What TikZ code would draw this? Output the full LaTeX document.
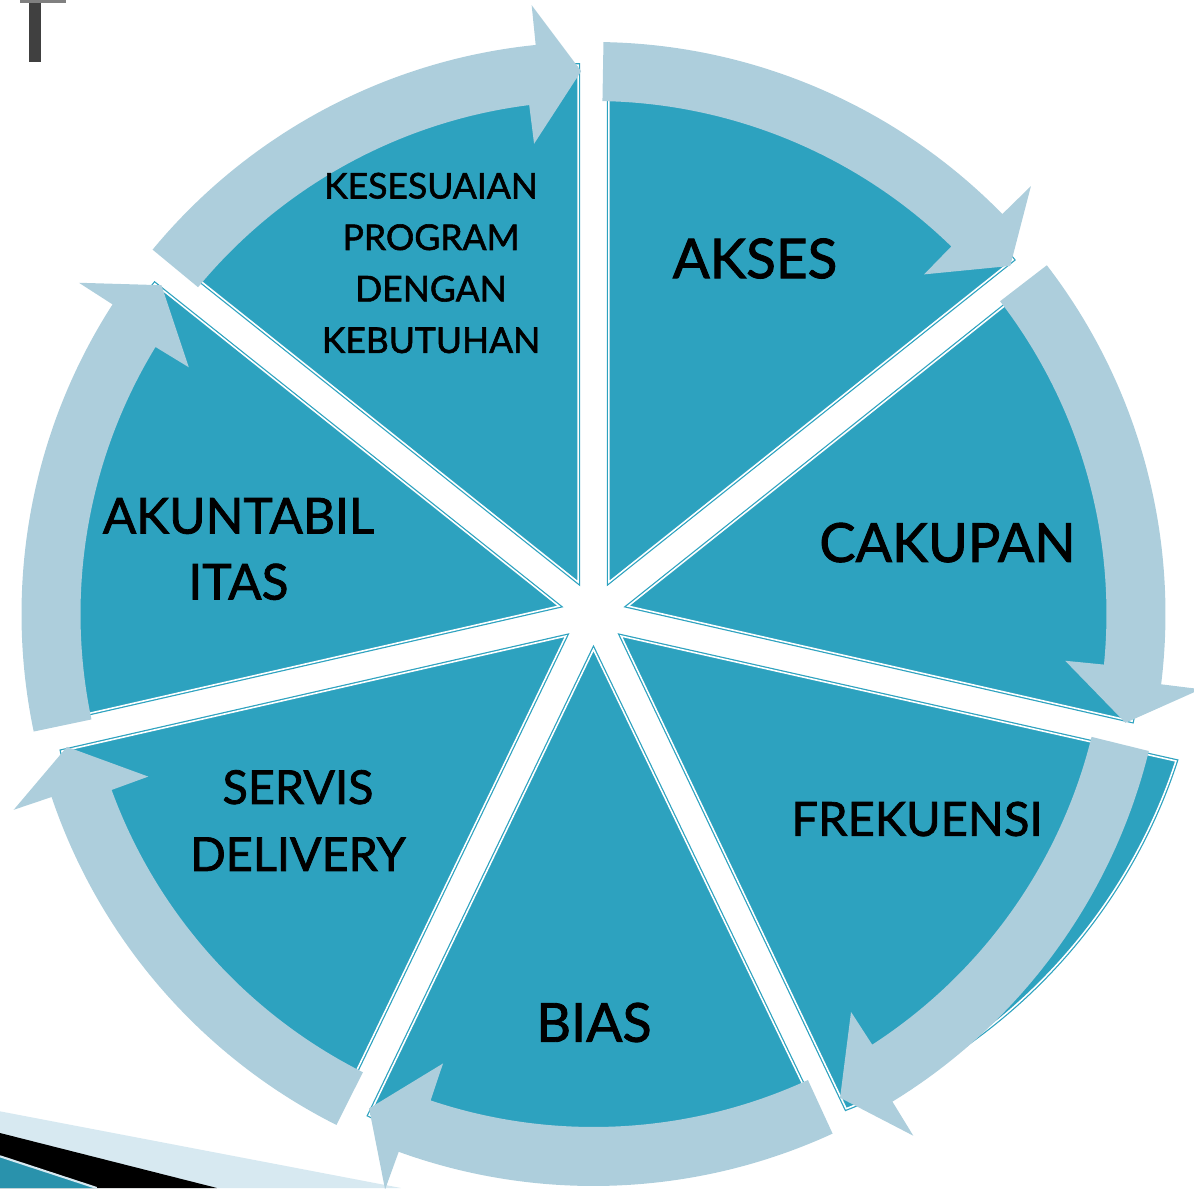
\documentclass[tikz,border=0pt]{standalone}
\usepackage{fontspec}
\setmainfont{Lato}[FakeBold=1.6]

\definecolor{slicefill}{HTML}{2DA2BF}
\definecolor{ringblue}{HTML}{ADCEDC}
\definecolor{paleband}{HTML}{D7E9F1}
\definecolor{darkbar}{HTML}{404040}

\tikzset{
  slice/.style={fill=slicefill, draw=slicefill, double=white, double distance=0.45pt, line width=0.35pt},
  ringarrow/.style={fill=ringblue},
  seglabel/.style={align=center, text=black, inner sep=0pt}
}

% curved arrow on the ring: #1 tail angle, #2 tip angle
\newcommand{\ringarrow}[2]{%
  \fill[ringarrow] (#1:5.13) -- (#1:5.72)
    arc[start angle=#1, end angle=#2+4.5, radius=5.72]
    -- (#2+4.5:6.12) -- (#2:5.43) -- (#2+5.9:4.74) -- (#2+5.9:5.13)
    arc[start angle=#2+5.9, end angle=#1, radius=5.13] -- cycle;}

\begin{document}
\begin{tikzpicture}

    \useasboundingbox (-5.935,-5.74) rectangle (6.005,6.14);

    % Slide decoration
    \fill[darkbar] (-5.645,6.14) rectangle (-5.525,5.52);
    \fill[gray] (-5.735,6.14) rectangle (-5.275,6.11);
    \fill[paleband] (-5.935,-4.973) -- (-1.925,-5.74) -- (-5.935,-5.74) -- cycle;
    \fill[black] (-5.935,-5.19) -- (-3.765,-5.74) -- (-5.935,-5.74) -- cycle;
    \fill[slicefill!90!black] (-5.935,-5.423) -- (-4.968,-5.74) -- (-5.935,-5.74) -- cycle;
    \draw[paleband, line width=0.6pt] (-5.935,-5.423) -- (-4.968,-5.74);

    % Pie slices
    \foreach \a in {141.43,90,38.57,-64.29,-115.71,-167.14}
      \draw[slice, shift={(\a-25.71:0.354)}] (0,0) -- (\a:5.17)
        arc[start angle=\a, end angle=\a-51.43, radius=5.17] -- cycle;
    % FREKUENSI slice is larger
    \draw[slice] (-38.57:0.354) -- (5.825,-1.47)
      arc[start angle=-18.18, end angle=-68.8, radius=5.605] -- cycle;

    % Ring arrows, clockwise
    \ringarrow{140.43}{91.3}
    \ringarrow{89}{39.87}
    \ringarrow{37.57}{-11.56}
    \ringarrow{-13.86}{-62.99}
    \ringarrow{-65.29}{-114.41}
    \ringarrow{-116.71}{-165.84}
    \ringarrow{191.86}{142.73}

    % Labels
    \node[seglabel, font=\fontsize{10.1}{14.65}\selectfont] (kesesuaian) at (-1.625,3.51)
      {KESESUAIAN\\PROGRAM\\DENGAN\\KEBUTUHAN};
    \node[seglabel, font=\fontsize{15.6}{19}\selectfont] (akses) at (1.615,3.555) {AKSES};
    \node[seglabel, font=\fontsize{15.4}{19}\selectfont] (cakupan) at (3.54,0.714) {CAKUPAN};
    \node[seglabel, font=\fontsize{13.4}{19}\selectfont] (frekuensi) at (3.235,-2.05) {FREKUENSI};
    \node[seglabel, font=\fontsize{15.3}{19}\selectfont] (bias) at (0.005,-4.085) {BIAS};
    \node[seglabel, font=\fontsize{13.3}{19.06}\selectfont] (servis) at (-2.955,-2.065)
      {SERVIS\\DELIVERY};
    \node[seglabel, font=\fontsize{14.1}{18.78}\selectfont] (akuntabilitas) at (-3.55,0.65)
      {AKUNTABIL\\ITAS};

\end{tikzpicture}
\end{document}
